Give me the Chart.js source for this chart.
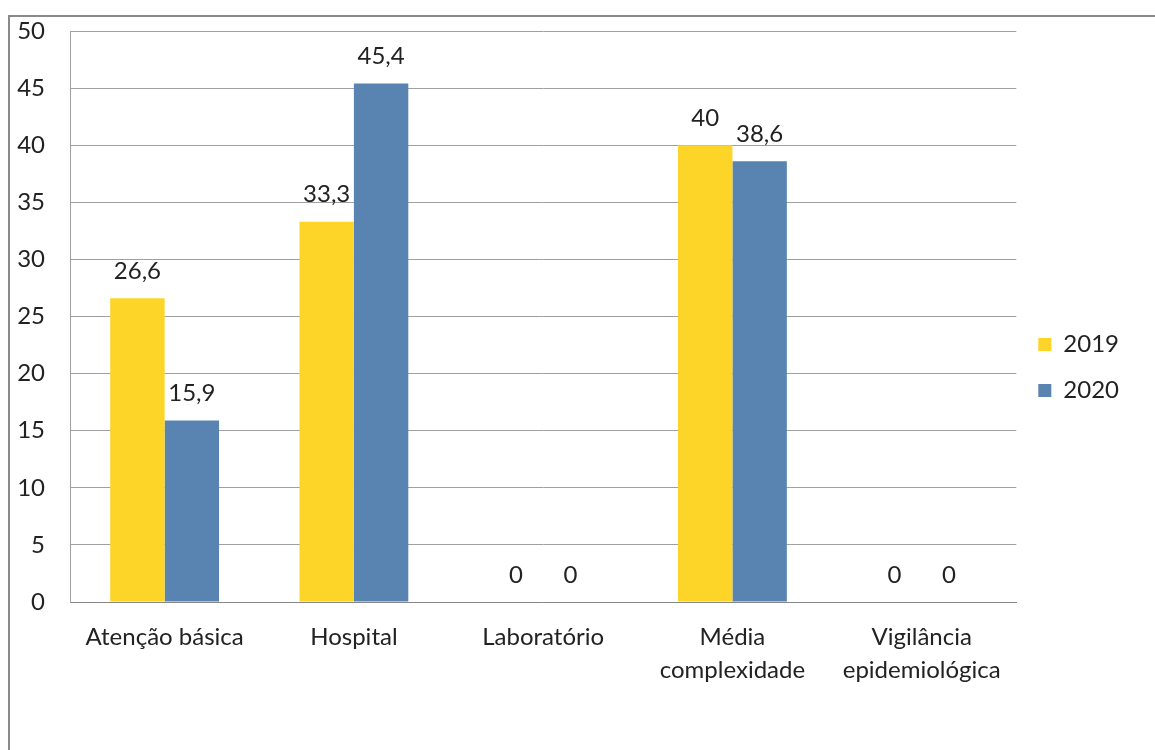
<!DOCTYPE html>
<html>
<head>
<meta charset="utf-8">
<script src="https://cdn.jsdelivr.net/npm/chart.js@4/dist/chart.umd.min.js"></script>
<style>
  html, body { margin: 0; padding: 0; background: #fff; }
  body { width: 1155px; height: 750px; overflow: hidden; position: relative; }
  #frame {
    position: absolute; left: 8px; top: 15px; width: 1160px; height: 760px;
    border-top: 2px solid #8a8a8a; border-left: 2px solid #8a8a8a;
  }
  #wrap { position: absolute; left: 10px; top: 17px; width: 1145px; height: 687px; }
</style>
</head>
<body>
<div id="frame"></div>
<div id="wrap"><canvas id="chart"></canvas></div>
<script>
const categories = [
  "Atenção básica",
  "Hospital",
  "Laboratório",
  ["Média", "complexidade"],
  ["Vigilância", "epidemiológica"]
];
const values2019 = [26.6, 33.3, 0, 40, 0];
const values2020 = [15.9, 45.4, 0, 38.6, 0];
const yTicks = [0, 5, 10, 15, 20, 25, 30, 35, 40, 45, 50];

const FONT = "Lato, 'Open Sans', sans-serif";
const TEXT = "#222";
const SIZE = 24;

// draws the value above each bar, with comma as decimal mark
const valueLabels = {
  id: "valueLabels",
  afterDatasetsDraw(chart) {
    const ctx = chart.ctx;
    ctx.save();
    ctx.font = SIZE + "px " + FONT;
    ctx.fillStyle = TEXT;
    ctx.textAlign = "center";
    ctx.textBaseline = "middle";
    chart.data.datasets.forEach((ds, i) => {
      chart.getDatasetMeta(i).data.forEach((bar, j) => {
        const txt = String(ds.data[j]).replace(".", ",");
        ctx.fillText(txt, bar.x, bar.y - 27);
      });
    });
    ctx.restore();
  }
};

new Chart(document.getElementById("chart"), {
  type: "bar",
  data: {
    labels: categories,
    datasets: [
      { label: "2019", data: values2019, backgroundColor: "#FDD428" },
      { label: "2020", data: values2020, backgroundColor: "#5983B0" }
    ]
  },
  options: {
    responsive: true,
    maintainAspectRatio: false,
    animation: false,
    layout: { padding: { top: 14, right: 26, left: 0, bottom: 0 } },
    datasets: { bar: { barPercentage: 1, categoryPercentage: 0.575 } },
    plugins: {
      legend: {
        position: "right",
        labels: {
          boxWidth: 13, boxHeight: 13, padding: 22,
          color: TEXT, font: { family: FONT, size: SIZE }
        }
      },
      tooltip: { enabled: false }
    },
    scales: {
      x: {
        grid: { display: false, drawTicks: false },
        border: { display: true, color: "#868686", width: 1 },
        ticks: {
          color: TEXT, padding: 19, maxRotation: 0, autoSkip: false,
          font: { family: FONT, size: SIZE, lineHeight: 1.36 }
        },
        afterFit(scale) { scale.height = 102; scale.paddingLeft = 0; scale.paddingRight = 0; }
      },
      y: {
        min: 0, max: 50,
        afterBuildTicks(scale) { scale.ticks = yTicks.map(v => ({ value: v })); },
        grid: { color: "#a0a0a0", drawTicks: false },
        border: { display: true, color: "#a0a0a0" },
        ticks: {
          color: TEXT, padding: 25,
          font: { family: FONT, size: SIZE }
        },
        afterFit(scale) { scale.width = 60; scale.paddingTop = 0; scale.paddingBottom = 0; }
      }
    }
  },
  plugins: [valueLabels]
});
</script>
</body>
</html>
